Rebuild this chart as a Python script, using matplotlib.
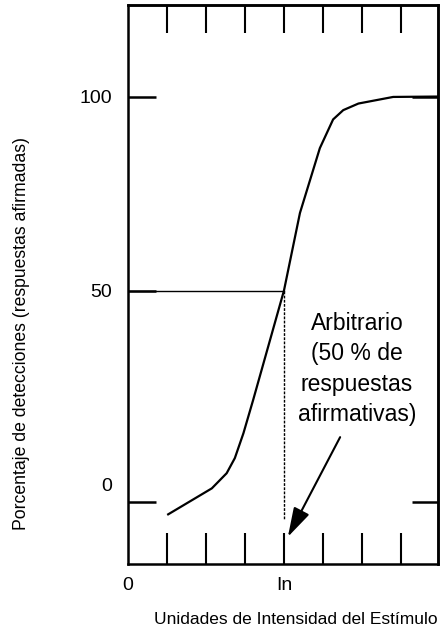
import matplotlib
matplotlib.use("Agg")
import matplotlib.pyplot as plt

plt.rcParams['font.family'] = ['Liberation Sans', 'DejaVu Sans']

# ---- data ----
intensity = [1.03, 2.15, 2.53, 2.74, 2.96, 3.21, 4.00, 4.41, 4.92, 5.26, 5.52, 5.91, 6.80, 7.95]
detection = [-7.7, -1.0, 2.9, 6.8, 13.2, 21.8, 50.0, 70.0, 86.7, 94.1, 96.5, 98.2, 99.9, 100.0]

threshold_x = 4.0          # "In"
threshold_pct = 50.0
x_label_pos = [0, threshold_x]
x_tick_labels = ['0', 'In']
x_minor_ticks = [1, 2, 3, 4, 5, 6, 7]
y_label_pos = [0, 50, 100]
y_tick_labels = ['0', '50', '100']
y_left_marks = [-4.5, 50, 100]
y_right_marks = [-4.5, 100]
annot_text = "Arbitrario\n(50 % de\nrespuestas\nafirmativas)"
annot_xy = (4.10, -13.5)
annot_text_xy = (5.87, 29.8)
arrow_tail = (5.44, 12.2)

fig = plt.figure(figsize=(4.41, 6.31), dpi=100)
ax = fig.add_axes([128/441, 67/631, 310/441, 559/631])
ax.xaxis.remove_overlapping_locs = False
ax.yaxis.remove_overlapping_locs = False

ax.set_xlim(0, 7.95)
ax.set_ylim(-20.5, 123.6)

# curve
ax.plot(intensity, detection, color='black', lw=1.6, solid_joinstyle='miter')

# guide lines
ax.plot([0, threshold_x], [threshold_pct, threshold_pct], color='black', lw=1.0)
ax.plot([threshold_x, threshold_x], [threshold_pct, -9.1], color='black', lw=1.0,
        linestyle=(0, (2, 1)))

# annotation
ax.text(annot_text_xy[0], annot_text_xy[1], annot_text, ha='center', va='center',
        fontsize=16.5, linespacing=1.42)
ax.annotate('', xy=annot_xy, xytext=arrow_tail,
            arrowprops=dict(arrowstyle='-|>,head_length=1.2,head_width=0.35',
                            mutation_scale=15, lw=1.5, color='black',
                            shrinkA=0, shrinkB=0))

for s in ax.spines.values():
    s.set_linewidth(1.8)

# x ticks
ax.set_xticks(x_label_pos)
ax.set_xticklabels(x_tick_labels)
ax.set_xticks(x_minor_ticks, minor=True)
ax.tick_params(axis='x', which='major', length=0, pad=9, labelsize=14)
ax.tick_params(axis='x', which='minor', direction='in', length=22, width=1.5,
               bottom=True, top=False)
secx = ax.secondary_xaxis('top')
secx.set_xticks(x_minor_ticks)
secx.tick_params(direction='in', length=20, width=1.5, labeltop=False)
secx.spines['top'].set_linewidth(1.8)

# y ticks
ax.set_yticks(y_label_pos)
ax.set_yticklabels(y_tick_labels)
ax.set_yticks(y_left_marks, minor=True)
ax.tick_params(axis='y', which='major', length=0, pad=11.5, labelsize=14)
ax.tick_params(axis='y', which='minor', direction='in', length=20, width=1.8,
               left=True, right=False)
secy = ax.secondary_yaxis('right')
secy.set_yticks(y_right_marks)
secy.tick_params(direction='in', length=19, width=1.8, labelright=False)
secy.spines['right'].set_linewidth(1.8)

fig.text(296/441, 1 - 620/631, 'Unidades de Intensidad del Estímulo',
         ha='center', va='center', fontsize=12.5)
fig.text(22/441, 1 - 333/631, 'Porcentaje de detecciones (respuestas afirmadas)',
         ha='center', va='center', rotation=90, fontsize=12.7)

fig.savefig('out.png', dpi=100)
